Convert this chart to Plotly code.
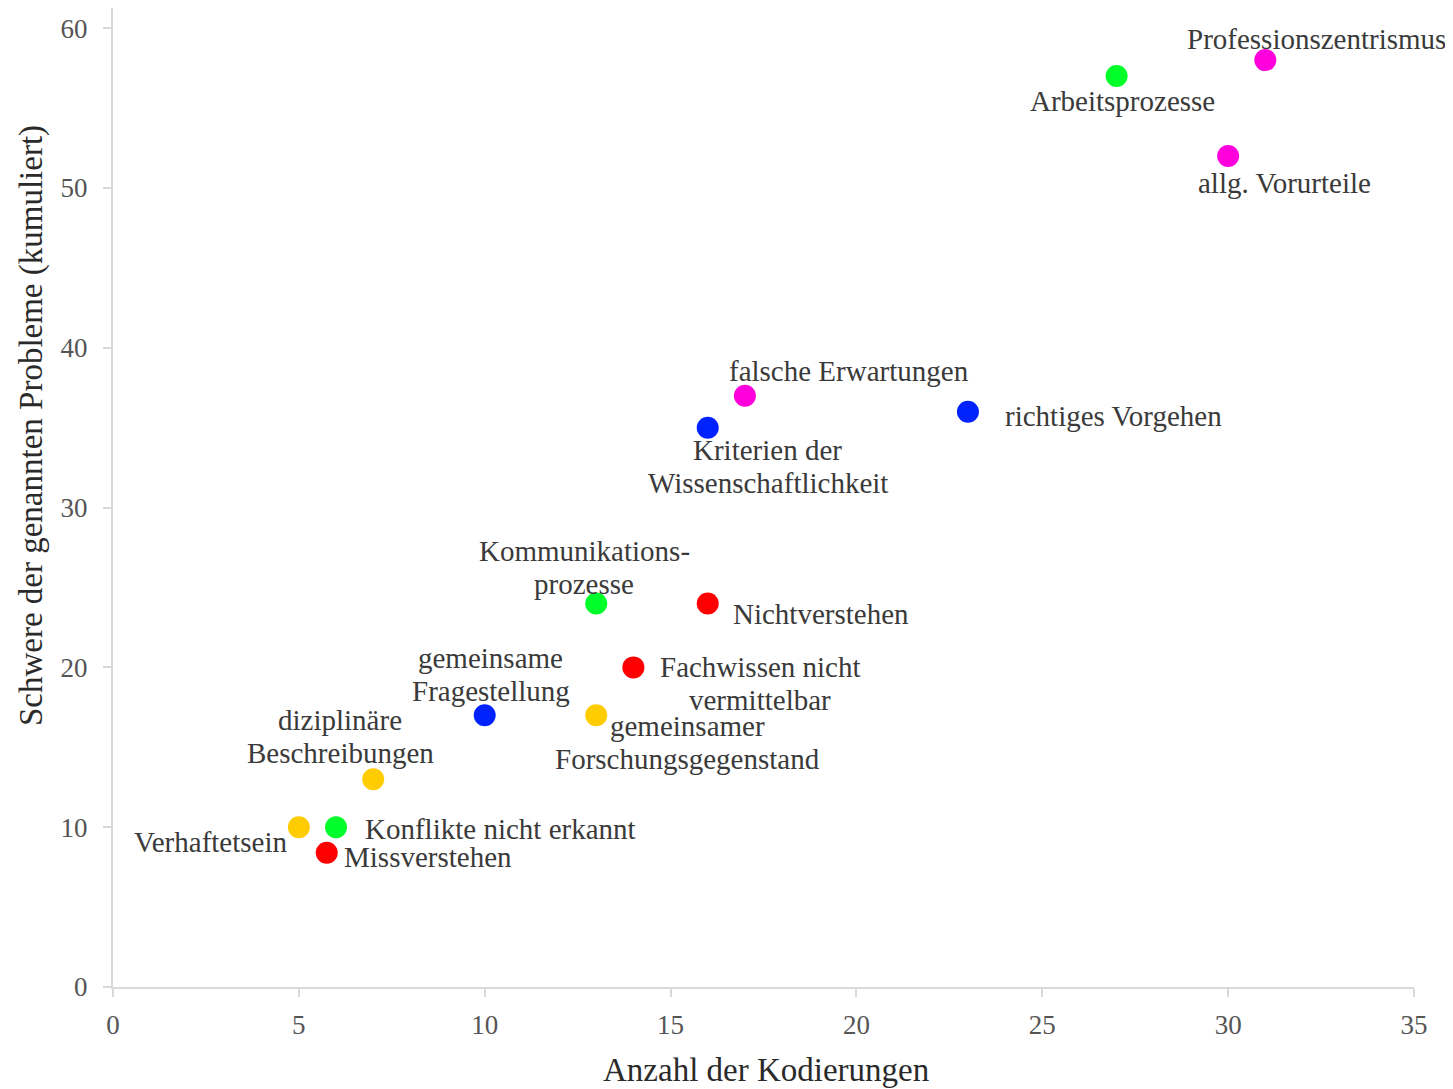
import plotly.graph_objects as go

labels = ["Professionszentrismus", "Arbeitsprozesse", "allg. Vorurteile",
          "falsche Erwartungen", "Kriterien der<br>Wissenschaftlichkeit", "richtiges Vorgehen",
          "Kommunikations-<br>prozesse", "Nichtverstehen", "Fachwissen nicht<br>vermittelbar",
          "gemeinsame<br>Fragestellung", "gemeinsamer<br>Forschungsgegenstand",
          "diziplinäre<br>Beschreibungen", "Verhaftetsein", "Konflikte nicht erkannt",
          "Missverstehen"]
x_vals = [31, 27, 30, 17, 16, 23, 13, 16, 14, 10, 13, 7, 5, 6, 5.75]
y_vals = [58, 57, 52, 37, 35, 36, 24, 24, 20, 17, 17, 13, 10, 10, 8.4]
colors = ["#ff00dd", "#00ff2a", "#ff00dd", "#ff00dd", "#0022ff", "#0022ff",
          "#00ff2a", "#ff0000", "#ff0000", "#0022ff", "#ffcc00", "#ffcc00",
          "#ffcc00", "#00ff2a", "#ff0000"]
x_ticks = [0, 5, 10, 15, 20, 25, 30, 35]
y_ticks = [0, 10, 20, 30, 40, 50, 60]
x_title = "Anzahl der Kodierungen"
y_title = "Schwere der genannten Probleme (kumuliert)"

# label placement: (xanchor, xshift px, yshift px of block centre)
placement = [("center", 51, 21), ("center", 6, -25), ("center", 56, -27),
             ("center", 104, 25), ("center", 60, -39), ("left", 35, -4),
             ("center", -12, 36), ("left", 23, -11), ("center", 127, -16),
             ("center", 6, 41), ("center", 91, -27), ("center", -33, 43),
             ("right", -10, -15), ("left", 27, -2), ("left", 15, -4)]
LINE_GAP = 33

font_family = "Liberation Serif"
text_color = "#3a3a3a"
tick_color = "#555555"
axis_color = "#d9d9d9"

fig = go.Figure()
fig.add_trace(go.Scatter(
    x=x_vals, y=y_vals, mode="markers",
    marker=dict(size=22, color=colors, line=dict(width=0)),
    hovertext=[l.replace("<br>", " ") for l in labels], hoverinfo="text+x+y",
    showlegend=False,
))

for lab, xv, yv, (anc, xs, ys) in zip(labels, x_vals, y_vals, placement):
    lines = lab.split("<br>")
    n = len(lines)
    for i, line in enumerate(lines):
        fig.add_annotation(x=xv, y=yv, xref="x", yref="y", text=line, showarrow=False,
                           xanchor=anc, yanchor="middle", xshift=xs,
                           yshift=ys + (n - 1) / 2 * LINE_GAP - i * LINE_GAP,
                           font=dict(family=font_family, size=29, color=text_color))

# axis titles
fig.add_annotation(xref="paper", yref="paper", x=0.502, y=-0.085, text=x_title,
                   showarrow=False, xanchor="center", yanchor="middle",
                   font=dict(family=font_family, size=33, color="#2a2a2a"))
fig.add_annotation(xref="paper", yref="paper", x=-0.063, y=0.573, text=y_title,
                   showarrow=False, xanchor="center", yanchor="middle", textangle=-90,
                   font=dict(family=font_family, size=33, color="#2a2a2a"))

fig.update_layout(
    width=1445, height=1081,
    margin=dict(l=105, r=39, t=0, b=102, autoexpand=False),
    paper_bgcolor="white", plot_bgcolor="white",
    font=dict(family=font_family, color=text_color),
    xaxis=dict(range=[0, 35], tickvals=x_ticks, showgrid=False, zeroline=False,
               showline=True, linecolor=axis_color, linewidth=2,
               ticks="outside", ticklen=8, tickcolor=axis_color, tickwidth=2,
               ticklabelstandoff=5,
               tickfont=dict(size=27, color=tick_color)),
    yaxis=dict(range=[0, 61.26], tickvals=y_ticks, showgrid=False, zeroline=False,
               showline=True, linecolor=axis_color, linewidth=2,
               ticks="outside", ticklen=8, tickcolor=axis_color, tickwidth=2,
               ticklabelstandoff=10,
               tickfont=dict(size=27, color=tick_color)),
)

fig.write_html("out.html")
